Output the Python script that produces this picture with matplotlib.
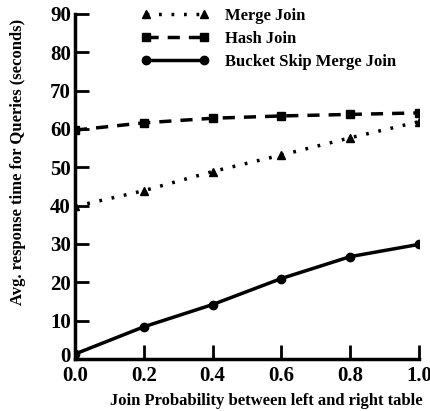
import numpy as np
import matplotlib.pyplot as plt
from matplotlib.transforms import ScaledTranslation

# join probability vs. average response time
join_prob = [0.0, 0.2, 0.4, 0.6, 0.8, 1.0]
merge_join = [39.8, 43.9, 48.9, 53.2, 57.7, 61.9]
hash_join = [59.7, 61.6, 62.8, 63.4, 63.8, 64.2]
bucket_skip = [1.3, 8.4, 14.2, 21.0, 26.7, 29.9]

x_ticks = [0.0, 0.2, 0.4, 0.6, 0.8, 1.0]
y_ticks = [0, 10, 20, 30, 40, 50, 60, 70, 80, 90]

plt.rcParams["font.family"] = ["Liberation Serif", "DejaVu Serif"]
plt.rcParams["font.weight"] = "bold"

fig = plt.figure(figsize=(4.31, 4.11), dpi=100)
ax = fig.add_axes([0.174, 0.1265, 0.798, 0.8395])

ax.plot(join_prob, merge_join, color="black", linestyle=(0, (0.8, 2.8)), linewidth=2.5,
        marker="^", markersize=6, label="Merge Join")
ax.plot(join_prob, hash_join, color="black", linestyle=(0, (3.5, 2.6)), linewidth=2.5,
        marker="s", markersize=5.5, label="Hash Join")
ax.plot(join_prob, bucket_skip, color="black", linestyle="-", linewidth=2.5,
        marker="o", markersize=6, label="Bucket Skip Merge Join")

ax.set_xlim(0, 1.0)
ax.set_ylim(0, 90)
ax.set_xticks(x_ticks)
ax.set_xticklabels([f"{v:.1f}" for v in x_ticks])
ax.set_yticks(y_ticks)
ax.tick_params(direction="in", length=10, width=2, labelsize=15)
ax.tick_params(axis="x", pad=5)
ax.tick_params(axis="y", pad=3)
for side in ("top", "right"):
    ax.spines[side].set_visible(False)
for side in ("left", "bottom"):
    ax.spines[side].set_linewidth(2.5)

# nudge the "0" on the y axis up a few pixels so it clears the "0.0" below
zero_label = ax.yaxis.get_major_ticks()[0].label1
zero_label.set_transform(zero_label.get_transform() + ScaledTranslation(0, 3 / 72, fig.dpi_scale_trans))

ax.set_xlabel("Join Probability between left and right table", fontsize=12, fontweight="bold")
ax.set_ylabel("Avg. response time for Queries (seconds)", fontsize=12, fontweight="bold")
ax.xaxis.set_label_coords(0.555, -0.099)
ax.yaxis.set_label_coords(-0.143, 0.571)

ax.legend(loc="upper left", bbox_to_anchor=(0.172, 1.036), frameon=False, numpoints=2,
          handlelength=4.1, labelspacing=0.4, handletextpad=0.95, borderaxespad=0,
          prop={"weight": "bold", "size": 12})

fig.savefig("out.png", dpi=100)
